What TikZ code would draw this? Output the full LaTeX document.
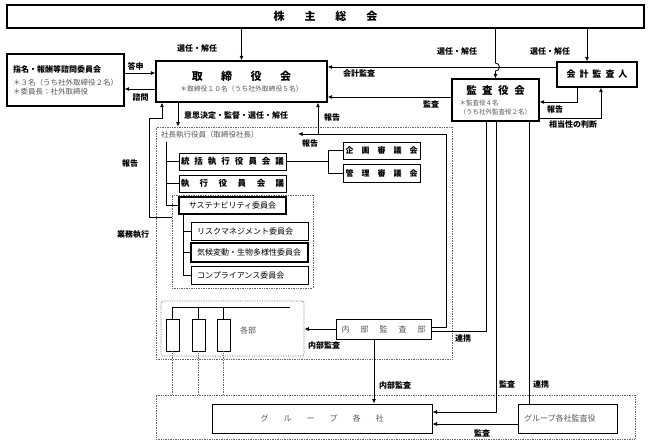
\documentclass[tikz,border=0pt]{standalone}
\usepackage{fontspec}
\setmainfont{Noto Sans CJK JP}
\usetikzlibrary{arrows.meta}
\definecolor{subgray}{HTML}{555555}
\tikzset{
  org/.style={draw, line width=1.1pt, inner sep=0pt, align=center},
  unit/.style={draw, line width=0.9pt, inner sep=0pt, font=\fontsize{8}{9}\selectfont},
  zone/.style={draw=black!60, densely dotted, line width=0.7pt},
  link/.style={line width=0.8pt},
  flow/.style={line width=0.8pt, -{Latex[length=4.5pt,width=4pt]}},
  lbl/.style={font=\bfseries\fontsize{8}{9}\selectfont},
}
\begin{document}
\begin{tikzpicture}[x=1pt, y=-1pt]
\useasboundingbox (0,0) rectangle (648,444);
\node[org, line width=1.3pt, minimum width=637pt, minimum height=23pt, font=\bfseries\fontsize{11}{13}\selectfont] (meeting) at (325.5,16.5) {株\hspace{20pt}主\hspace{20pt}総\hspace{20pt}会};
\node[org, line width=1.3pt, minimum width=171pt, minimum height=41pt, text=subgray, font=\fontsize{6.8}{8}\selectfont] (board) at (241.5,81.5) {{\color{black}\bfseries\fontsize{11}{13}\selectfont 取\hspace{18.5pt}締\hspace{18.5pt}役\hspace{18.5pt}会}\\[3pt]＊取締役１０名（うち社外取締役５名）};
\node[org, minimum width=117pt, minimum height=52pt, align=left, text=subgray, font=\fontsize{7.5}{9}\selectfont] (nomc) at (65.5,80) {{\color{black}\bfseries\fontsize{8}{10}\selectfont 指名・報酬等諮問委員会}\\[4pt]＊３名（うち社外取締役２名）\\＊委員長：社外取締役};
\node[org, minimum width=87pt, minimum height=42pt, text=subgray, font=\fontsize{6.5}{9}\selectfont] (kansa) at (495.5,100) {{\color{black}\bfseries\fontsize{10.5}{12}\selectfont 監\hspace{5.5pt}査\hspace{5.5pt}役\hspace{5.5pt}会}\\[2pt]\makebox[72pt][l]{＊監査役４名}\\\makebox[72pt][l]{（うち社外監査役２名）}};
\node[org, minimum width=80pt, minimum height=25pt, font=\bfseries\fontsize{9}{11}\selectfont] (auditor) at (597,74.5) {会\hspace{4pt}計\hspace{4pt}監\hspace{4pt}査\hspace{4pt}人};

\node[zone, minimum width=296pt, minimum height=232pt] (exec) at (304,243) {};
\node[anchor=west, inner sep=0pt, text=subgray, font=\fontsize{7.5}{9}\selectfont] (pres) at (161,135) {社長執行役員（取締役社長）};
\node[unit, minimum width=107pt, minimum height=17pt, font=\bfseries\fontsize{8.5}{10}\selectfont] (tokatsu) at (232.5,161.5) {統\hspace{5pt}括\hspace{5pt}執\hspace{5pt}行\hspace{5pt}役\hspace{5pt}員\hspace{5pt}会\hspace{5pt}議};
\node[unit, minimum width=107pt, minimum height=17pt, font=\bfseries\fontsize{8.5}{10}\selectfont] (shikko) at (232.5,183.5) {執\hspace{10.5pt}行\hspace{10.5pt}役\hspace{10.5pt}員\hspace{10.5pt}会\hspace{10.5pt}議};
\node[zone, minimum width=141pt, minimum height=93pt] (sgroup) at (242.5,241.5) {};
\node[unit, line width=1.1pt, minimum width=107pt, minimum height=17pt] (sust) at (232.5,205.5) {サステナビリティ委員会};
\node[unit, inner xsep=6pt, text width=105pt, align=left, minimum height=18pt] (risk) at (249.5,231) {リスクマネジメント委員会};
\node[unit, line width=1.1pt, inner xsep=6pt, text width=105pt, align=left, minimum height=19pt] (climate) at (249.5,252.5) {気候変動・生物多様性委員会};
\node[unit, inner xsep=6pt, text width=105pt, align=left, minimum height=18pt] (comp) at (249.5,275) {コンプライアンス委員会};
\node[unit, minimum width=77pt, minimum height=17pt, font=\bfseries\fontsize{8}{10}\selectfont] (kikaku) at (381.5,150.5) {企\hspace{8pt}画\hspace{8pt}審\hspace{8pt}議\hspace{8pt}会};
\node[unit, minimum width=77pt, minimum height=18pt, font=\bfseries\fontsize{8}{10}\selectfont] (kanri) at (381.5,173) {管\hspace{8pt}理\hspace{8pt}審\hspace{8pt}議\hspace{8pt}会};
\node[unit, minimum width=95pt, minimum height=20pt, text=subgray] (naibu) at (383.5,329) {内\hspace{11pt}部\hspace{11pt}監\hspace{11pt}査\hspace{11pt}部};

\node[zone, rounded corners=2pt, minimum width=143pt, minimum height=55pt] (dept) at (232.5,328.5) {};
\foreach \i/\x in {1/172.5, 2/198.5, 3/223.5}
  \node[unit, line width=0.8pt, minimum width=13pt, minimum height=32pt] (sec\i) at (\x,335) {};
\node[text=subgray, inner sep=0pt, font=\fontsize{8}{9}\selectfont] (deptname) at (248,330) {各部};

\node[zone, minimum width=479pt, minimum height=44pt] (gzone) at (395.5,417) {};
\node[unit, line width=1pt, minimum width=220pt, minimum height=29pt, text=subgray] (gbox) at (322,418.5) {グ\hspace{15pt}ル\hspace{15pt}ー\hspace{15pt}プ\hspace{15pt}各\hspace{15pt}社};
\node[unit, line width=1pt, inner xsep=6pt, text width=87pt, align=left, minimum height=29pt, text=subgray] (gaudit) at (567.5,418.5) {グループ各社監査役};

\draw[flow] (meeting.south -| board.north) -- (board.north);
\draw[flow] (meeting.south -| kansa.north) -- (495.5,63) arc (-90:90:4) -- (kansa.north);
\draw[flow] (meeting.south -| 587,0) -- (auditor.north -| 587,0);
\draw[flow] (nomc.east |- 0,73) -- (board.west |- 0,73);
\draw[flow] (board.west |- 0,89) -- (nomc.east |- 0,89);
\draw[flow] (auditor.west |- 0,67) -- (board.east |- 0,67);
\draw[flow] (kansa.west |- 0,97) -- (board.east |- 0,97);
\draw[flow] (auditor.south -| 577,0) |- (kansa.east |- 0,102);
\draw[flow] (kansa.east |- 0,118) -| (auditor.south -| 601,0);
\draw[flow] (board.south -| 178,0) -- (exec.north -| 178,0);
\draw[flow] (sgroup.west |- 0,217) -| (149,118) -| (board.south -| 162,0);
\coordinate (toexec) at (298,134);
\coordinate (toboard) at (318,134);
\draw[flow] (naibu.east |- 0,327) -| (446,134) -- (toexec);
\draw[flow] (toboard) -- (board.south -| toboard);

\draw[link] (166,142) -- (sust.west -| 166,0);
\foreach \n in {tokatsu, shikko, sust}
  \draw[link] (\n.west -| 166,0) -- (\n.west);
\draw[link] (sust.south -| 183,0) -- (comp.west -| 183,0);
\foreach \n in {risk, climate, comp}
  \draw[link] (\n.west -| 183,0) -- (\n.west);
\draw[link] (tokatsu.east) -- (tokatsu.east -| 328,0);
\draw[link] (kikaku.west -| 328,0) -- (kanri.west -| 328,0);
\draw[link] (kikaku.west -| 328,0) -- (kikaku.west);
\draw[link] (kanri.west -| 328,0) -- (kanri.west);

\draw[link] (sec1.north |- 0,307) -- (290,307);
\foreach \i in {1,2,3} {
  \draw[link] (sec\i.north) -- (sec\i.north |- 0,307);
  \draw[zone] (sec\i.south) -- (sec\i.south |- gzone.north);
}

\draw[flow] (naibu.west) -- (dept.east |- naibu.west);
\draw[flow] (naibu.south -| 374,0) -- (gbox.north -| 374,0);
\draw[link] (kansa.south -| 486,0) |- (naibu.east |- 0,331);
\draw[flow] (kansa.south -| 496,0) |- (gbox.east |- 0,412);
\draw[link] (kansa.south -| 529,0) -- (gaudit.north -| 529,0);
\draw[flow] (gaudit.west |- 0,424) -- (gbox.east |- 0,424);

\node[lbl] (l1) at (197,48) {選任・解任};
\node[lbl] (l2) at (457,51) {選任・解任};
\node[lbl] (l3) at (550,51) {選任・解任};
\node[lbl] (l4) at (135.5,66) {答申};
\node[lbl] (l5) at (140.5,97) {諮問};
\node[lbl] (l6) at (359,73) {会計監査};
\node[lbl] (l7) at (431,104) {監査};
\node[lbl] (l8) at (555,109) {報告};
\node[lbl] (l9) at (573,124) {相当性の判断};
\node[lbl] (l10) at (236,115) {意思決定・監督・選任・解任};
\node[lbl] (l11) at (332,117) {報告};
\node[lbl] (l12) at (310,143) {報告};
\node[lbl] (l13) at (130,163) {報告};
\node[lbl] (l14) at (133,235) {業務執行};
\node[lbl] (l15) at (463,338) {連携};
\node[lbl] (l16) at (324,345) {内部監査};
\node[lbl] (l17) at (395,385) {内部監査};
\node[lbl] (l18) at (507,384) {監査};
\node[lbl] (l19) at (541,384) {連携};
\node[lbl] (l20) at (482,433) {監査};
\end{tikzpicture}
\end{document}
